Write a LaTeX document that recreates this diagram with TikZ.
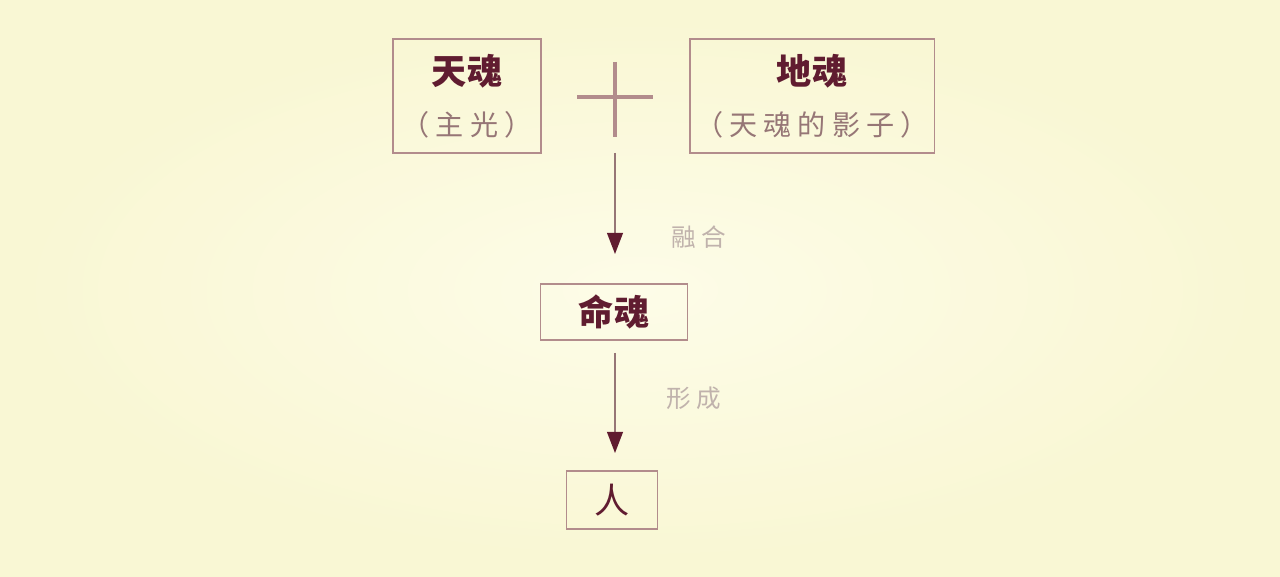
\documentclass[tikz,border=0pt]{standalone}
\usepackage{fontspec}
\setmainfont{Noto Sans CJK SC}
\usetikzlibrary{arrows.meta}
\definecolor{paper}{RGB}{249, 247, 212}
\definecolor{paperlight}{RGB}{253, 252, 232}
\definecolor{rosewood}{RGB}{178, 140, 140}
\definecolor{maroon}{RGB}{96, 28, 48}
\definecolor{dusk}{RGB}{150, 118, 118}
\definecolor{ash}{RGB}{192, 178, 172}
\newcommand{\soultitle}[1]{{\fontsize{20pt}{22pt}\selectfont\bfseries #1}}
\newcommand{\soulnote}[1]{{\color{dusk}\fontsize{16pt}{18pt}\selectfont\addfontfeature{LetterSpace=22}#1}}

\tikzset{
    soulbox/.style={draw=rosewood, line width=1.1pt, text=maroon, align=center, inner sep=0pt},
    linkarrow/.style={draw=dusk, line width=0.9pt, -{Triangle[width=9pt,length=12pt,color=maroon,fill=maroon]}},
    steplabel/.style={text=ash, font=\fontsize{14pt}{16pt}\selectfont\addfontfeature{LetterSpace=20}}
}

\begin{document}
\begin{tikzpicture}[x=0.02cm, y=-0.02cm]
            \fill[paper]                                          (0,0) rectangle (1280,577);
            \shade[inner color=paperlight, outer color=paper]     (640,290) ellipse (620 and 270);
            \useasboundingbox                                     (0,0) rectangle (1280,577);

            % upper row
            \node[soulbox, minimum width=2.96cm, minimum height=2.28cm] (tian) at (467, 96)
                {\soultitle{天魂}\\[12pt]\soulnote{（主光）}};
            \node[soulbox, minimum width=4.90cm, minimum height=2.28cm] (di)   at (812, 96)
                {\soultitle{地魂}\\[12pt]\soulnote{（天魂的影子）}};
            \draw[rosewood, line width=2.6pt] (577, 97) -- (653, 97);
            \draw[rosewood, line width=2.6pt] (615, 62) -- (615,137);
            \coordinate (plus) at (615,153);

            % middle and bottom
            \node[soulbox, minimum width=2.94cm, minimum height=1.12cm] (ming) at (614,312)
                {\soultitle{命魂}};
            \node[soulbox, minimum width=1.82cm, minimum height=1.16cm] (ren)  at (612,500)
                {\fontsize{20pt}{22pt}\selectfont 人};

            \draw[linkarrow, shorten >=0.58cm] (plus) -- (plus |- ming.north);
            \draw[linkarrow, shorten <=0.24cm, shorten >=0.34cm] (ming.south -| plus) -- (plus |- ren.north);
            \node[steplabel] (ronghe)    at (699,237) {融合};
            \node[steplabel] (xingcheng) at (694,398) {形成};
        \end{tikzpicture}
\end{document}
